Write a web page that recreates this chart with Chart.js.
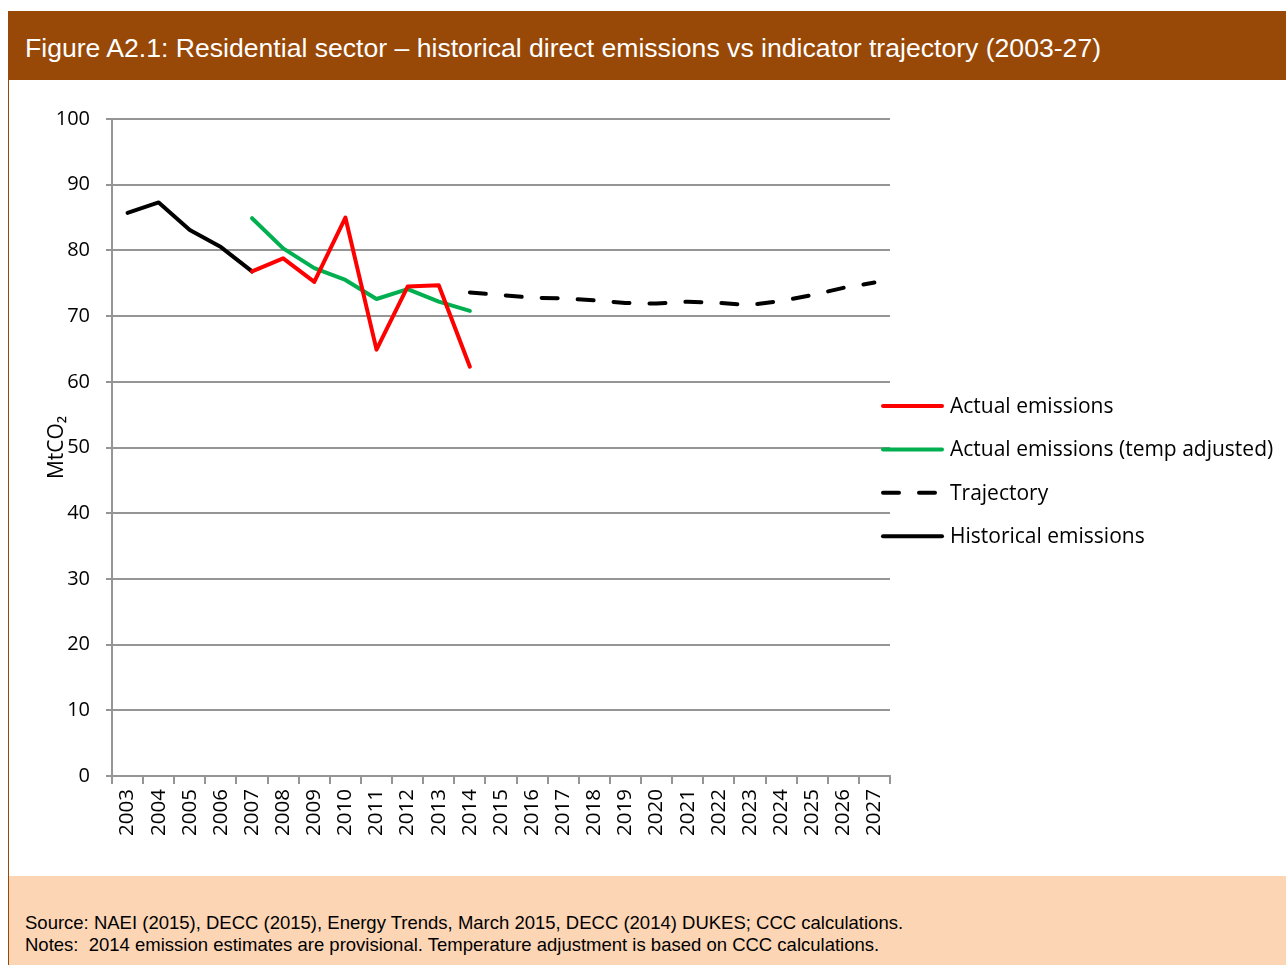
<!DOCTYPE html>
<html>
<head>
<meta charset="utf-8">
<script src="https://cdn.jsdelivr.net/npm/chart.js@4.4.1/dist/chart.umd.min.js"></script>
<style>
  body { margin: 0; width: 1286px; height: 965px; overflow: hidden; background: #fff; position: relative; }
  #head { position: absolute; left: 8px; top: 11px; width: 1278px; height: 69px; background: #984807; }
  #head span { position: absolute; left: 17px; top: 24.2px; font: 26.6px/1 "Liberation Sans", Arial, sans-serif; color: #fff; white-space: nowrap; }
  #edge { position: absolute; left: 8px; top: 80px; width: 1px; height: 885px; background: #984807; }
  #wrap { position: absolute; left: 9px; top: 80px; width: 1277px; height: 796px; }
  #foot { position: absolute; left: 9px; top: 876px; width: 1277px; height: 89px; background: #fcd5b5; }
  #foot div { position: absolute; left: 16px; top: 36px; font: 18.5px/21.7px "Liberation Sans", Arial, sans-serif; color: #000; white-space: pre; }
</style>
</head>
<body>
<div id="head"><span>Figure A2.1: Residential sector – historical direct emissions vs indicator trajectory (2003-27)</span></div>
<div id="edge"></div>
<div id="wrap"><canvas id="myChart"></canvas></div>
<div id="foot"><div>Source: NAEI (2015), DECC (2015), Energy Trends, March 2015, DECC (2014) DUKES; CCC calculations.
Notes:  2014 emission estimates are provisional. Temperature adjustment is based on CCC calculations.</div></div>
<script>
const years = [
  '2003', '2004', '2005', '2006', '2007', '2008', '2009', '2010', '2011', '2012', '2013', '2014', '2015',
  '2016', '2017', '2018', '2019', '2020', '2021', '2022', '2023', '2024', '2025', '2026', '2027'
];

// MtCO2
const actual = [null, null, null, null, 76.8, 78.8, 75.2, 85.0, 64.9, 74.5, 74.7, 62.3,
  null, null, null, null, null, null, null, null, null, null, null, null, null];
const tempAdjusted = [null, null, null, null, 84.9, 80.3, 77.3, 75.5, 72.6, 74.1, 72.2, 70.8,
  null, null, null, null, null, null, null, null, null, null, null, null, null];
const trajectory = [null, null, null, null, null, null, null, null, null, null, null,
  73.6, 73.2, 72.8, 72.7, 72.4, 72.0, 71.9, 72.2, 72.0, 71.7, 72.3, 73.2, 74.3, 75.1];
const historical = [85.7, 87.3, 83.1, 80.5, 76.8, null, null, null, null, null, null, null,
  null, null, null, null, null, null, null, null, null, null, null, null, null];

const yTicks = [0, 10, 20, 30, 40, 50, 60, 70, 80, 90, 100];

const gridGrey = '#959595';
const font = { family: '"Open Sans", sans-serif', size: 20 };

function series(label, values, color, dash) {
  return {
    label: label,
    data: values,
    borderColor: color,
    backgroundColor: color,
    borderWidth: 4,
    borderDash: dash,
    borderCapStyle: 'round',
    borderJoinStyle: 'round',
    pointRadius: 0,
    pointHoverRadius: 0,
    fill: false,
    tension: 0
  };
}

// legend on the right, line sample + label
const sideLegend = {
  id: 'sideLegend',
  afterDraw(chart) {
    const ctx = chart.ctx;
    const x0 = chart.chartArea.right - 9;
    ctx.save();
    ctx.font = '21px "Open Sans", sans-serif';
    ctx.textBaseline = 'middle';
    ctx.lineCap = 'round';
    ctx.lineWidth = 4;
    chart.data.datasets.forEach((ds, i) => {
      const y = 326 + i * 43.4;
      ctx.strokeStyle = ds.borderColor;
      ctx.setLineDash(ds.borderDash ? [16, 20] : []);
      ctx.beginPath();
      ctx.moveTo(x0 + 2, y);
      ctx.lineTo(x0 + 61, y);
      ctx.stroke();
      ctx.setLineDash([]);
      ctx.fillStyle = '#000';
      ctx.fillText(ds.label, x0 + 69, y + 1);
    });
    ctx.restore();
  }
};

const config = {
  type: 'line',
  data: {
    labels: years,
    datasets: [
      series('Actual emissions', actual, '#ff0000'),
      series('Actual emissions (temp adjusted)', tempAdjusted, '#00b050'),
      series('Trajectory', trajectory, '#000000', [16, 20]),
      series('Historical emissions', historical, '#000000')
    ]
  },
  options: {
    responsive: true,
    maintainAspectRatio: false,
    animation: false,
    layout: { padding: { top: 39, right: 396, bottom: 0, left: 0 } },
    plugins: {
      legend: { display: false },
      tooltip: { enabled: false }
    },
    scales: {
      x: {
        offset: true,
        grid: { offset: true, drawOnChartArea: false, drawTicks: true, tickLength: 8, color: gridGrey, lineWidth: 2 },
        border: { display: true, color: gridGrey, width: 2 },
        ticks: { autoSkip: false, maxRotation: 90, minRotation: 90, padding: 5, color: '#000', font: { family: font.family, size: 20.5 } },
        afterFit: s => { s.height = 100; }
      },
      y: {
        min: 0,
        max: 100,
        afterBuildTicks: s => { s.ticks = yTicks.map(v => ({ value: v })); },
        grid: { color: gridGrey, lineWidth: 2, drawTicks: true, tickLength: 6 },
        border: { display: true, color: gridGrey, width: 2 },
        ticks: { padding: 16, color: '#000', font: font },
        title: { display: true, text: 'MtCO₂', color: '#000', font: { family: font.family, size: 21 }, padding: { top: 35.4, bottom: 0 } },
        afterFit: s => { s.width = 103; }
      }
    }
  },
  plugins: [sideLegend]
};

const myChart = new Chart(document.getElementById('myChart'), config);
</script>
</body>
</html>
